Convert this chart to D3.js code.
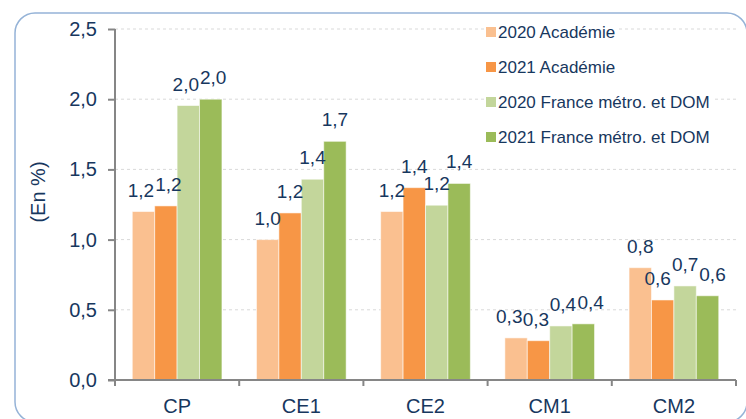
<!DOCTYPE html>
<html>
<head>
<meta charset="utf-8">
<script src="https://cdn.jsdelivr.net/npm/d3@7"></script>
<style>
  body { margin: 0; background: #fff; }
  svg { display: block; font-family: "Liberation Sans", Arial, sans-serif; }
</style>
</head>
<body>
<svg width="746" height="419"></svg>
<script>
// data
const categories = ["CP", "CE1", "CE2", "CM1", "CM2"];
const seriesNames = ["2020 Académie", "2021 Académie", "2020 France métro. et DOM", "2021 France métro. et DOM"];
const acad2020 = [1.20, 1.00, 1.20, 0.30, 0.80];
const acad2021 = [1.24, 1.19, 1.37, 0.28, 0.57];
const france2020 = [1.955, 1.43, 1.245, 0.385, 0.67];
const france2021 = [2.00, 1.70, 1.40, 0.40, 0.60];
const yTicks = [0, 0.5, 1, 1.5, 2, 2.5];

const colors = ["#FAC090", "#F79646", "#C3D69B", "#9BBB59"];
const textColor = "#17375E";
const allSeries = [acad2020, acad2021, france2020, france2021];

const fr = d3.formatLocale({ decimal: ",", thousands: " ", grouping: [3], currency: ["", "€"] });
const fmt = fr.format(".1f");

const svg = d3.select("svg");

// rounded frame
svg.append("rect")
  .attr("x", 15).attr("y", 13)
  .attr("width", 732).attr("height", 409)
  .attr("rx", 20)
  .attr("fill", "none")
  .attr("stroke", "#95B3D7")
  .attr("stroke-width", 1.5);

const plotLeft = 115, plotRight = 736, plotTop = 29, plotBottom = 380;

const y = d3.scaleLinear().domain([0, 2.5]).range([plotBottom, plotTop]);
const x0 = d3.scaleBand().domain(categories).range([plotLeft, plotRight]).padding(0);
const x1 = d3.scaleBand().domain(seriesNames).range([0, x0.bandwidth()]).paddingInner(0).paddingOuter(0.77);

// grid
svg.append("g")
  .selectAll("line")
  .data(yTicks.filter(d => d > 0))
  .join("line")
  .attr("x1", plotLeft).attr("x2", plotRight)
  .attr("y1", d => y(d)).attr("y2", d => y(d))
  .attr("stroke", "#D9D9D9")
  .attr("stroke-dasharray", "3,3");

// bars
const rows = categories.map((c, i) => ({ cat: c, vals: allSeries.map((s, k) => ({ name: seriesNames[k], k: k, v: s[i] })) }));

const groups = svg.append("g")
  .selectAll("g")
  .data(rows)
  .join("g")
  .attr("transform", d => `translate(${x0(d.cat)},0)`);

groups.selectAll("rect")
  .data(d => d.vals)
  .join("rect")
  .attr("x", d => x1(d.name))
  .attr("y", d => y(d.v))
  .attr("width", x1.bandwidth())
  .attr("height", d => plotBottom - y(d.v))
  .attr("fill", d => colors[d.k])
  .attr("stroke", "rgba(255,255,255,0.55)")
  .attr("stroke-width", 1);

groups.selectAll("text")
  .data(d => d.vals)
  .join("text")
  .attr("x", d => x1(d.name) + x1.bandwidth() / 2)
  .attr("y", d => y(d.v) - 15)
  .attr("text-anchor", "middle")
  .attr("font-size", 19)
  .attr("fill", textColor)
  .text(d => fmt(d.v));

// push apart value labels that collide inside a group
groups.each(function() {
  const labels = d3.select(this).selectAll("text").nodes();
  for (let pass = 0; pass < 4; pass++) {
    for (let i = 1; i < labels.length; i++) {
      const a = labels[i - 1].getBBox(), b = labels[i].getBBox();
      const ox = a.x + a.width + 1 - b.x;
      const oy = Math.min(a.y + a.height, b.y + b.height) - Math.max(a.y, b.y);
      if (ox > 0 && oy > 4) {
        labels[i - 1].setAttribute("x", +labels[i - 1].getAttribute("x") - ox / 2);
        labels[i].setAttribute("x", +labels[i].getAttribute("x") + ox / 2);
      }
    }
  }
});

// y axis
const yAxis = svg.append("g")
  .attr("transform", `translate(${plotLeft},0)`)
  .call(d3.axisLeft(y).tickValues(yTicks).tickSize(7).tickPadding(11).tickFormat(fmt));
yAxis.select(".domain").attr("stroke", "#868686").attr("stroke-width", 2).attr("d", `M0,${plotTop}V${plotBottom + 6}`);
yAxis.selectAll(".tick line").attr("stroke", "#868686").attr("stroke-width", 2);
yAxis.selectAll(".tick text").attr("font-size", 20).attr("fill", textColor).attr("font-family", "Liberation Sans, Arial, sans-serif");

// x axis (ticks on category boundaries)
const xAxis = svg.append("g").attr("transform", `translate(0,${plotBottom})`);
xAxis.append("line")
  .attr("x1", plotLeft - 7).attr("x2", plotRight)
  .attr("stroke", "#868686").attr("stroke-width", 2);
xAxis.selectAll("line.b")
  .data(categories.concat(["end"]))
  .join("line")
  .attr("class", "b")
  .attr("x1", (d, i) => plotLeft + i * x0.step()).attr("x2", (d, i) => plotLeft + i * x0.step())
  .attr("y1", 0).attr("y2", 6)
  .attr("stroke", "#868686").attr("stroke-width", 2);
xAxis.selectAll("text")
  .data(categories)
  .join("text")
  .attr("x", d => x0(d) + x0.bandwidth() / 2)
  .attr("y", 33)
  .attr("text-anchor", "middle")
  .attr("font-size", 20)
  .attr("fill", textColor)
  .text(d => d);

// y title
svg.append("text")
  .attr("transform", "translate(45,192) rotate(-90)")
  .attr("text-anchor", "middle")
  .attr("font-size", 20)
  .attr("fill", textColor)
  .text("(En %)");

// legend
const legend = svg.append("g")
  .selectAll("g")
  .data(seriesNames)
  .join("g")
  .attr("transform", (d, i) => `translate(486,${32 + i * 35})`);

legend.append("text")
  .attr("x", 12)
  .attr("y", 6)
  .attr("font-size", 17)
  .attr("fill", textColor)
  .text(d => d);

legend.insert("rect", "text")
  .attr("x", -1)
  .attr("y", -9)
  .attr("width", function() { return this.parentNode.querySelector("text").getComputedTextLength() + 16; })
  .attr("height", 18)
  .attr("fill", "#fff");

legend.insert("rect", "text")
  .attr("x", 0)
  .attr("y", -5)
  .attr("width", 10)
  .attr("height", 10)
  .attr("fill", (d, i) => colors[i]);
</script>
</body>
</html>
